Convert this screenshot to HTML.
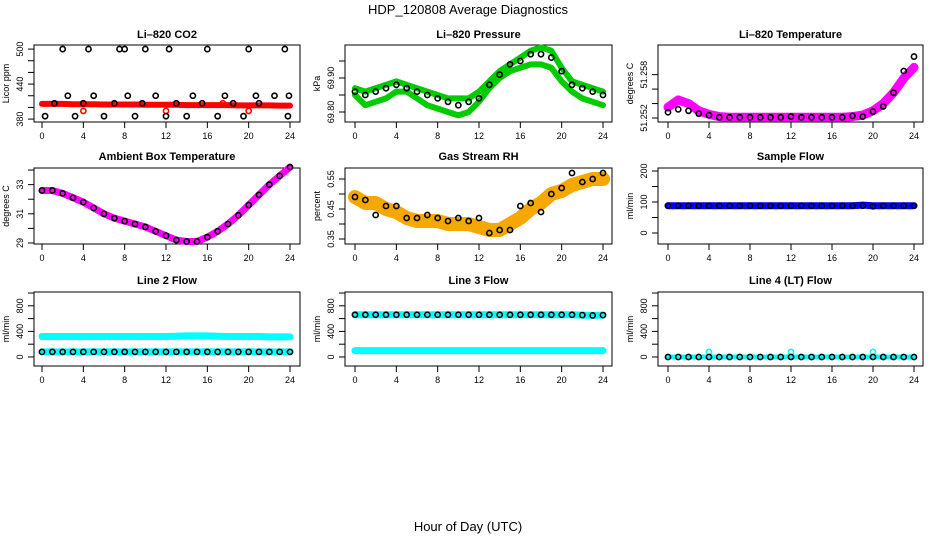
<!DOCTYPE html>
<html><head><meta charset="utf-8"><style>
html,body{margin:0;padding:0;background:#fff}
svg{display:block;font-family:"Liberation Sans",sans-serif}
</style></head><body>
<svg id="c" width="936" height="540" viewBox="0 0 936 540">
<text x="468" y="14" text-anchor="middle" font-size="13">HDP_120808  Average Diagnostics</text>
<text x="468" y="531" text-anchor="middle" font-size="13">Hour of Day (UTC)</text>
</svg>
<script>
const hours=[0,1,2,3,4,5,6,7,8,9,10,11,12,13,14,15,16,17,18,19,20,21,22,23,24];
const xTicks=[0,4,8,12,16,20,24];
// Panel 1 CO2
const co2Red=[406,406,406,405.5,405.5,405.5,405,405,405,405,404.5,404.5,404.5,404.5,404,404,404,404,404,403.5,403.5,403.5,403.5,403,403];
const co2BlackT=[0.3,1.2,2,2.5,3.2,4,4.5,5,6,7,7.5,8,8.3,9,9.7,10,11,12,12.3,13,14,14.6,15.5,16,17,17.7,18.5,19.5,20,20.7,21,22.5,23.5,23.8,23.9];
const co2BlackV=[385,407,500,420,385,407,500,420,385,407,500,500,420,385,407,500,420,385,500,407,385,420,407,500,385,420,407,385,500,420,407,420,500,385,420];
const co2RedDotT=[4,12,20,17.5];
const co2RedDotV=[394,394,394,407];
// Panel 2 Pressure
const presUpper=[69.87,69.86,69.87,69.88,69.89,69.88,69.87,69.86,69.85,69.84,69.84,69.84,69.86,69.89,69.92,69.94,69.96,69.98,69.99,69.98,69.93,69.89,69.88,69.87,69.86];
const presLower=[69.85,69.82,69.83,69.84,69.86,69.86,69.84,69.82,69.81,69.80,69.79,69.80,69.83,69.87,69.90,69.92,69.93,69.94,69.94,69.93,69.89,69.86,69.84,69.83,69.82];
const presBlack=[69.86,69.85,69.86,69.87,69.88,69.87,69.86,69.85,69.84,69.83,69.82,69.83,69.84,69.88,69.91,69.94,69.95,69.97,69.97,69.96,69.92,69.88,69.87,69.86,69.85];
// Panel 3 Li-820 Temperature
const tempMag=[51.2535,51.2545,51.2540,51.2530,51.2525,51.2522,51.2521,51.2521,51.2521,51.2521,51.2521,51.2521,51.2521,51.2521,51.2521,51.2521,51.2521,51.2521,51.2522,51.2524,51.2530,51.2540,51.2555,51.2575,51.2590];
const tempBlack=[51.2528,51.2532,51.2530,51.2526,51.2524,51.2521,51.2521,51.2521,51.2521,51.2521,51.2521,51.2521,51.2522,51.2521,51.2521,51.2521,51.2521,51.2521,51.2523,51.2522,51.2529,51.2536,51.2555,51.2585,51.2605];
// Panel 4 Ambient
const ambVals=[32.6,32.6,32.4,32.1,31.8,31.4,31.0,30.7,30.5,30.3,30.1,29.8,29.5,29.2,29.1,29.1,29.4,29.8,30.3,30.9,31.6,32.3,33.0,33.6,34.2];
// Panel 5 RH
const rhBand=[0.49,0.47,0.47,0.45,0.44,0.42,0.41,0.41,0.41,0.40,0.40,0.40,0.39,0.38,0.38,0.40,0.42,0.45,0.47,0.50,0.51,0.53,0.54,0.55,0.55];
const rhBlack=[0.49,0.48,0.43,0.46,0.46,0.42,0.42,0.43,0.42,0.41,0.42,0.41,0.42,0.37,0.38,0.38,0.46,0.47,0.44,0.50,0.52,0.57,0.54,0.55,0.57];
// Panel 6 Sample flow
const sampleBlue=[88,88,88,88,88,88,88,88,88,88,88,88,88,88,88,88,88,88,88,90,88,88,88,88,88];
const sampleBlack=[88,88,88,88,88,88,88,88,88,88,88,88,88,88,88,88,88,88,88,88,86,88,88,88,88];
// Panel 7 Line 2
const l2High=[320,320,320,320,320,320,320,320,320,320,320,320,320,325,330,330,330,325,320,320,320,320,315,315,315];
const l2Low=[80,80,80,80,80,80,80,80,80,80,80,80,80,80,80,80,80,80,80,80,80,80,80,80,80];
// Panel 8 Line 3
const l3High=[660,660,660,660,660,660,660,660,660,660,660,660,660,660,660,660,660,660,660,660,660,660,655,650,655];
const l3Low=[100,100,100,100,100,100,100,100,100,100,100,100,100,100,100,100,100,100,100,100,100,100,100,100,100];
// Panel 9 Line 4
const l4Vals=[0,0,0,0,0,0,0,0,0,0,0,0,0,0,0,0,0,0,0,0,0,0,0,0,0];
const l4SpikeT=[4,12,20];
const l4SpikeV=[80,80,80];

const NS="http://www.w3.org/2000/svg";
const svg=document.getElementById('c');
const cols=[{x0:34,x1:300,h0:42,h24:290,lab:9},{x0:345,x1:612,h0:355,h24:603,lab:320},{x0:658,x1:923,h0:668,h24:914,lab:633}];
const rows=[{y0:45,y1:122,t:34},{y0:168,y1:244,t:156},{y0:292,y1:366,t:280}];
function mk(tag,attrs,parent){const e=document.createElementNS(NS,tag);for(const k in attrs)e.setAttribute(k,attrs[k]);(parent||svg).appendChild(e);return e;}
function panel(ci,ri,title,ytitle,lo,hi,yticks,ylabels,name){
  const c=cols[ci],r=rows[ri];
  const g=mk('g',{});
  
  
  const xs=h=>c.h0+(c.h24-c.h0)*h/24;
  const ys=v=>r.y1-(v-lo)/(hi-lo)*(r.y1-r.y0);
  const t=mk('text',{x:(c.x0+c.x1)/2,y:r.t+4,'text-anchor':'middle','font-size':11,'font-weight':'bold'},g);t.textContent=title;
  
  
  const b=mk('rect',{x:c.x0,y:r.y0,width:c.x1-c.x0,height:r.y1-r.y0,fill:'none',stroke:'#000','stroke-width':1},g);
  
  
  xTicks.forEach(h=>{
    mk('line',{x1:xs(h),x2:xs(h),y1:r.y1,y2:r.y1+6,stroke:'#000'},g);
    const l=mk('text',{x:xs(h),y:r.y1+17,'text-anchor':'middle','font-size':9},g);l.textContent=h;
    
    
  });
  yticks.forEach(v=>{mk('line',{x1:c.x0-6,x2:c.x0,y1:ys(v),y2:ys(v),stroke:'#000'},g);});
  ylabels.forEach(v=>{
    const l=mk('text',{x:0,y:0,'text-anchor':'middle','font-size':9,transform:`translate(${c.x0-11},${ys(v)}) rotate(-90)`},g);l.textContent=v;
    
    
  });
  const yt=mk('text',{x:0,y:0,'text-anchor':'middle','font-size':9,transform:`translate(${c.lab},${(r.y0+r.y1)/2}) rotate(-90)`},g);yt.textContent=ytitle;
  
  
  return {g,xs,ys};
}
function band(p,tArr,vArr,color,w,nm){
  const pts=tArr.map((t,i)=>p.xs(t)+','+p.ys(vArr[i])).join(' ');
  const e=mk('polyline',{points:pts,fill:'none',stroke:color,'stroke-width':w,'stroke-linejoin':'round','stroke-linecap':'round'},p.g);
  
  
}
function dots(p,tArr,vArr,color,nm,rad){
  tArr.forEach((t,i)=>{
    const e=mk('circle',{cx:p.xs(t),cy:p.ys(vArr[i]),r:rad||2.6,fill:'none',stroke:color,'stroke-width':1.6},p.g);
    
    
  });
}
let p;
p=panel(0,0,'Li\u2013820 CO2','Licor ppm',375,507,[380,400,420,440,460,480,500],[380,440,500],'co2');
band(p,hours,co2Red,'#f00',6,'co2-red-band');
dots(p,co2RedDotT,co2RedDotV,'#f00','co2-red-point');
dots(p,co2BlackT,co2BlackV,'#000','co2-black-point');
p=panel(1,0,'Li\u2013820 Pressure','kPa',69.7706,69.997,[69.80,69.85,69.90,69.95],['69.80','69.90'],'pressure');
band(p,hours,presUpper,'#0c0',6,'pressure-upper-band');
band(p,hours,presLower,'#0c0',6,'pressure-lower-band');
dots(p,hours,presBlack,'#000','pressure-black-point');
p=panel(2,0,'Li\u2013820 Temperature','degrees C',51.25145,51.2621,[51.252,51.254,51.256,51.258],['51.252','51.258'],'li820-temp');
band(p,hours,tempMag,'#f0f',9,'temp-magenta-band');
dots(p,hours,tempBlack,'#000','temp-black-point');
p=panel(0,1,'Ambient Box Temperature','degrees C',28.93,34.14,[29,30,31,32,33,34],[29,31,33],'ambient');
band(p,hours,ambVals,'#f0f',7,'ambient-magenta-band');
dots(p,hours,ambVals,'#000','ambient-black-point');
p=panel(1,1,'Gas Stream RH','percent',0.3333,0.5867,[0.35,0.40,0.45,0.50,0.55],['0.35','0.45','0.55'],'rh');
band(p,hours,rhBand,'#f7a800',14,'rh-orange-band');
dots(p,hours,rhBlack,'#000','rh-black-point');
p=panel(2,1,'Sample Flow','ml/min',-35.5,209.7,[0,50,100,150,200],[0,100,200],'sample-flow');
band(p,hours,sampleBlue,'#00f',7,'sample-blue-band');
dots(p,hours,sampleBlack,'#000','sample-black-point');
p=panel(0,2,'Line 2 Flow','ml/min',-141,1016,[0,200,400,600,800,1000],[0,400,800],'line2');
band(p,hours,l2High,'#0ff',7,'line2-high-band');
band(p,hours,l2Low,'#0ff',7,'line2-low-band');
dots(p,hours,l2Low,'#000','line2-black-point');
p=panel(1,2,'Line 3 Flow','ml/min',-141,1016,[0,200,400,600,800,1000],[0,400,800],'line3');
band(p,hours,l3Low,'#0ff',7,'line3-low-band');
band(p,hours,l3High,'#0ff',7,'line3-high-band');
dots(p,hours,l3High,'#000','line3-black-point');
p=panel(2,2,'Line 4 (LT) Flow','ml/min',-141,1016,[0,200,400,600,800,1000],[0,400,800],'line4');
band(p,hours,l4Vals,'#0ff',5,'line4-band');
dots(p,l4SpikeT,l4SpikeV,'#0ff','line4-spike-point');
dots(p,hours,l4Vals,'#000','line4-black-point');
</script>
</body></html>
